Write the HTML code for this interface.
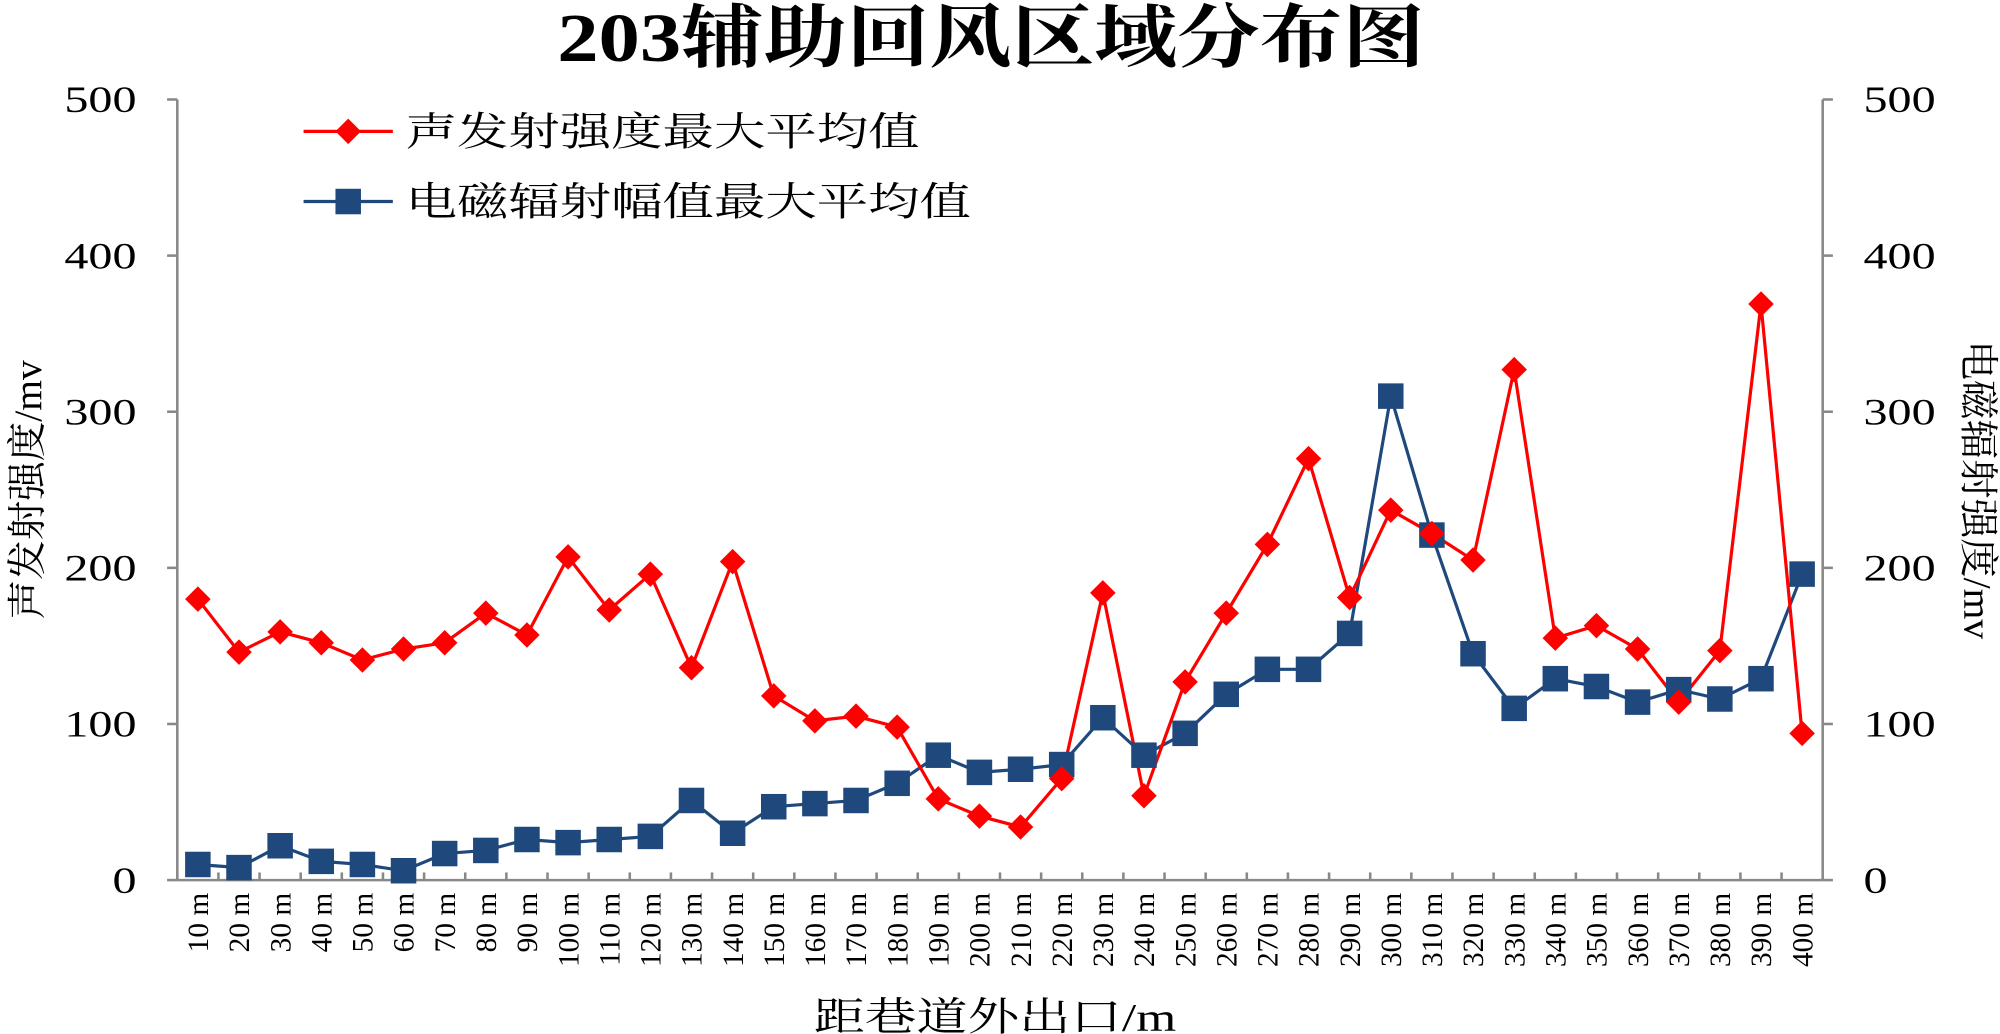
<!DOCTYPE html>
<html><head><meta charset="utf-8"><style>
html,body{margin:0;padding:0;background:#fff;}
svg{display:block;font-family:"Liberation Serif","Noto Serif CJK SC",serif;}
</style></head><body>
<svg id="chart" width="2000" height="1034" viewBox="0 0 2000 1034" xmlns="http://www.w3.org/2000/svg">
<g transform="scale(1.2755)">
<text transform="translate(777,48) scale(1.2,1)" text-anchor="middle" font-size="54" font-weight="bold">203辅助回风区域分布图</text>
<g id="axes"></g>
<g id="series"></g>
<g>
<g>
<line x1="238" y1="103" x2="308" y2="103" stroke="#ff0000" stroke-width="2.5"/>
<path d="M273 93 L283 103 L273 113 L263 103 Z" fill="#ff0000"/>
<text transform="translate(318,114) scale(1.3,1)" font-size="31">声发射强度最大平均值</text></g>
<g>
<line x1="238" y1="158" x2="308" y2="158" stroke="#1f497d" stroke-width="2.5"/>
<rect x="263" y="148" width="20" height="20" fill="#1f497d"/>
<text transform="translate(318,169) scale(1.3,1)" font-size="31">电磁辐射幅值最大平均值</text></g>
</g>
<text transform="translate(780,808) scale(1.3,1)" text-anchor="middle" font-size="31">距巷道外出口/m</text>
<text transform="translate(32,384) rotate(-90)" text-anchor="middle" font-size="31">声发射强度/mv</text>
<text transform="translate(1540,384) rotate(90)" text-anchor="middle" font-size="31">电磁辐射强度/mv</text>
</g>
</svg>
<script>
const categories=[10,20,30,40,50,60,70,80,90,100,110,120,130,140,150,160,170,180,190,200,210,220,230,240,250,260,270,280,290,300,310,320,330,340,350,360,370,380,390,400];
const acoustic=[180,146,159,152,141,148,152,171,157,207,173,196,136,204,118,102,105,98,52,41,34,65,184,54,127,171,215,270,181,237,222,205,327,155,163,148,114,147,369,94];
const em=[10,8,22,12,10,6,17,19,26,24,26,28,51,30,47,49,51,62,80,69,71,74,104,80,94,119,135,135,158,310,221,145,110,129,124,114,122,116,129,196];
const yTicks=[0,100,200,300,400,500];
const NS="http://www.w3.org/2000/svg";
const L=139,R=1429,T=78,B=690;
const bw=(R-L)/categories.length;
function x(i){return L+bw*(i+0.5);}
function y(v){return B-(v/500)*(B-T);}
function mk(tag,attrs,parent){const e=document.createElementNS(NS,tag);for(const k in attrs)e.setAttribute(k,attrs[k]);parent.appendChild(e);return e;}
const axes=document.getElementById('axes');
let e;
e=mk('line',{x1:L,y1:T,x2:L,y2:B,stroke:'#888','stroke-width':2},axes);


e=mk('line',{x1:R,y1:T,x2:R,y2:B,stroke:'#888','stroke-width':2},axes);


e=mk('line',{x1:L,y1:B,x2:R,y2:B,stroke:'#888','stroke-width':2},axes);


yTicks.forEach(v=>{
 mk('line',{x1:L-8,y1:y(v),x2:L,y2:y(v),stroke:'#888','stroke-width':2},axes);
 mk('line',{x1:R,y1:y(v),x2:R+8,y2:y(v),stroke:'#888','stroke-width':2},axes);
 e=mk('text',{transform:`translate(${L-32},${y(v)+10}) scale(1.3,1)`,'text-anchor':'end','font-size':29},axes);e.textContent=v;
 
 
 e=mk('text',{transform:`translate(${R+32},${y(v)+10}) scale(1.3,1)`,'text-anchor':'start','font-size':29},axes);e.textContent=v;
 
 
});
categories.forEach((c,i)=>{
 mk('line',{x1:L+bw*i,y1:B-6,x2:L+bw*i,y2:B,stroke:'#888','stroke-width':2},axes);
 e=mk('text',{transform:`translate(${x(i)+8},${B+10}) rotate(-90)`,'text-anchor':'end','font-size':23},axes);e.textContent=c+' m';
 
 
});
const s=document.getElementById('series');
e=mk('polyline',{points:em.map((v,i)=>x(i)+','+y(v)).join(' '),fill:'none',stroke:'#1f497d','stroke-width':2.5},s);


e=mk('polyline',{points:acoustic.map((v,i)=>x(i)+','+y(v)).join(' '),fill:'none',stroke:'#ff0000','stroke-width':2.5},s);


em.forEach((v,i)=>{
 e=mk('rect',{x:x(i)-10,y:y(v)-10,width:20,height:20,fill:'#1f497d'},s);
 
 
});
acoustic.forEach((v,i)=>{
 const cx=x(i),cy=y(v);
 e=mk('path',{d:`M${cx} ${cy-10} L${cx+10} ${cy} L${cx} ${cy+10} L${cx-10} ${cy} Z`,fill:'#ff0000'},s);
 
 
});
</script>
</body></html>
